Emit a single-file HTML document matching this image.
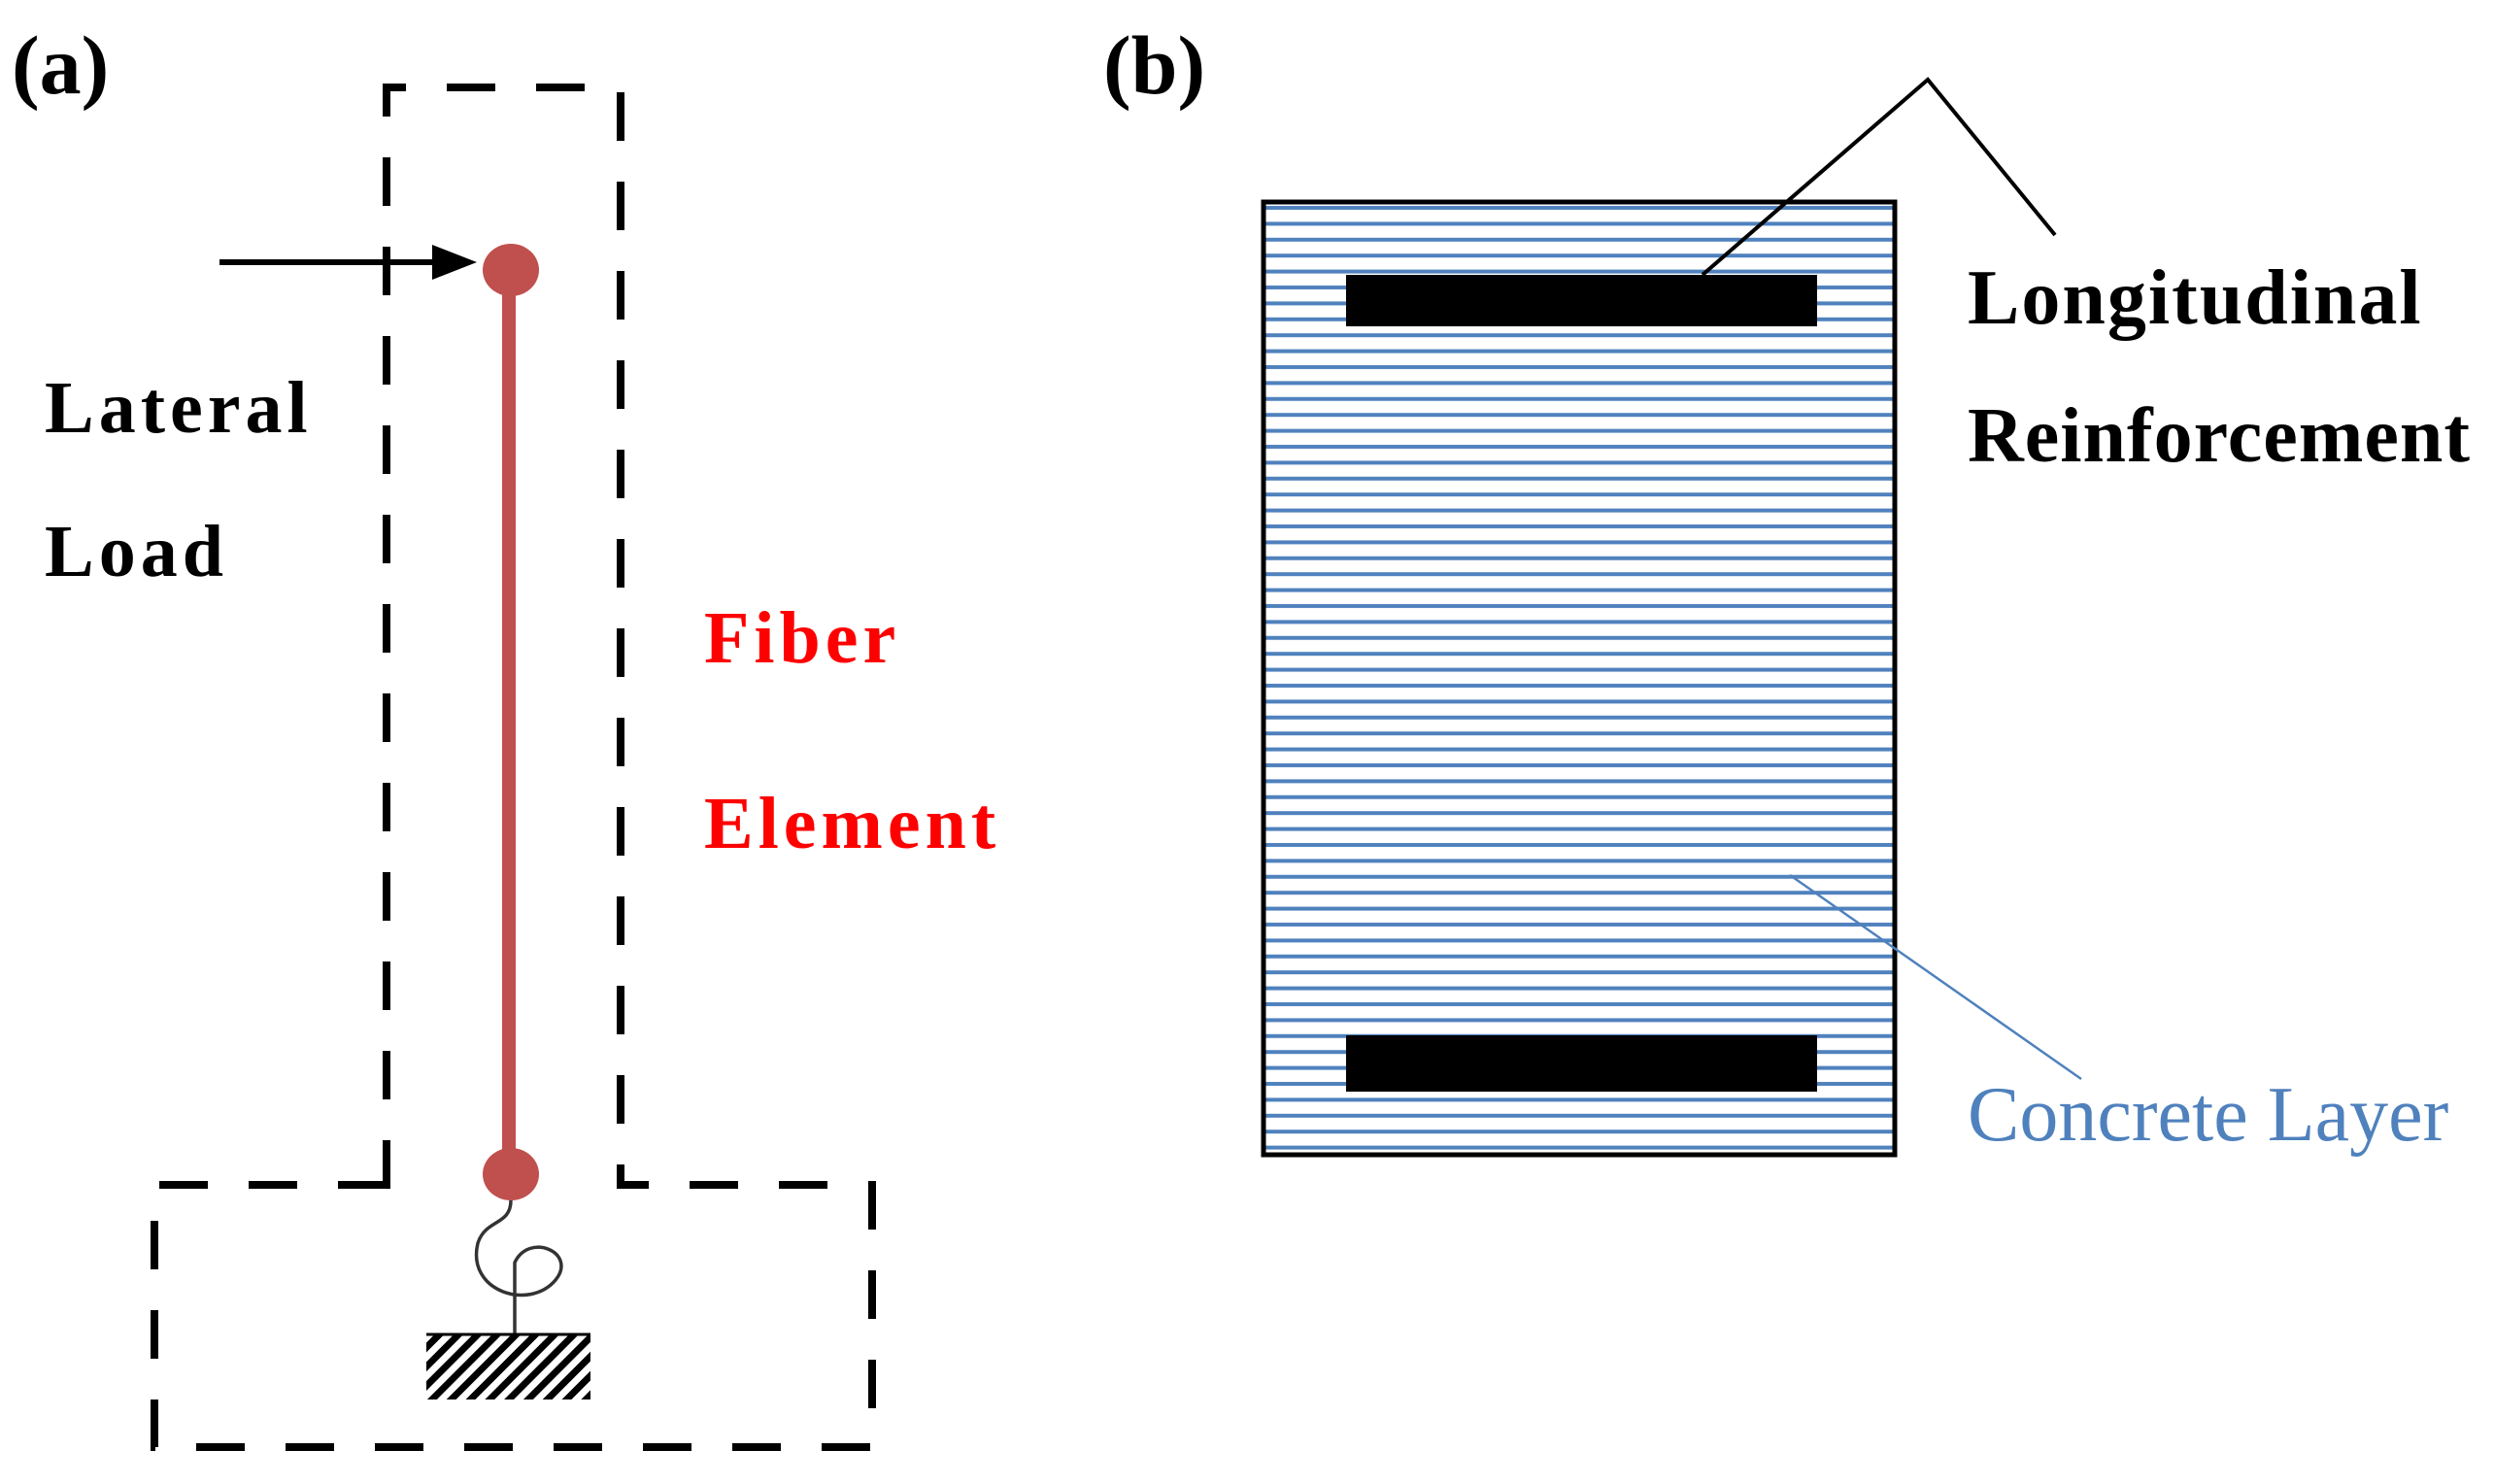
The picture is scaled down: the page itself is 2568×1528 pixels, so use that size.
<!DOCTYPE html>
<html><head><meta charset="utf-8"><style>
html,body{margin:0;padding:0;background:#fff;}
svg{display:block;}
</style></head><body>
<svg width="2568" height="1528" viewBox="0 0 2568 1528" xmlns="http://www.w3.org/2000/svg">
<defs>
<pattern id="hatch" patternUnits="userSpaceOnUse" width="14" height="14" patternTransform="rotate(45)">
<rect width="14" height="14" fill="#fff"/><rect width="7" height="14" fill="#000"/>
</pattern>
<pattern id="layers" patternUnits="userSpaceOnUse" width="20" height="16.4" y="206">
<rect width="20" height="16.4" fill="#fff"/><rect y="6" width="20" height="4" fill="#4f81bd"/>
</pattern>
</defs>
<g font-family="Liberation Serif, serif" font-weight="bold">
<text x="12" y="96" font-size="86">(a)</text>
<text x="1136" y="96" font-size="86">(b)</text>
<text x="46" y="445" font-size="76" letter-spacing="5">Lateral</text>
<text x="46" y="593" font-size="76" letter-spacing="5">Load</text>
<text x="725" y="682" font-size="76" letter-spacing="5" fill="#ff0000">Fiber</text>
<text x="725" y="873" font-size="76" letter-spacing="5" fill="#ff0000">Element</text>
<text x="2026" y="333" font-size="80" letter-spacing="2">Longitudinal</text>
<text x="2026" y="475" font-size="80" letter-spacing="1">Reinforcement</text>
</g>
<text x="2026" y="1174" font-family="Liberation Serif, serif" font-size="80" fill="#4f81bd" letter-spacing="0">Concrete Layer</text>
<path d="M398,1220 L159,1220 L159,1490 L898,1490 L898,1220 L639,1220 L639,90 L398,90 Z" fill="none" stroke="#000" stroke-width="8" stroke-dasharray="50 42"/>
<line x1="226" y1="270" x2="455" y2="270" stroke="#000" stroke-width="6"/>
<polygon points="445,252 491,270 445,288" fill="#000"/>
<line x1="524" y1="278" x2="524" y2="1209" stroke="#c0504d" stroke-width="14"/>
<ellipse cx="526" cy="278" rx="29" ry="27" fill="#c0504d"/>
<ellipse cx="526" cy="1209" rx="29" ry="27" fill="#c0504d"/>
<path d="M526,1236 C526,1262 500,1255 492,1280 C480,1330 545,1350 572,1318 C595,1290 545,1268 530,1300 L530,1373" fill="none" stroke="#333" stroke-width="3.5"/>
<rect x="439" y="1373" width="169" height="68" fill="url(#hatch)"/>
<line x1="439" y1="1374" x2="608" y2="1374" stroke="#000" stroke-width="3"/>
<rect x="1301" y="208" width="650" height="981" fill="url(#layers)" stroke="#000" stroke-width="5"/>
<rect x="1386" y="283" width="485" height="53" fill="#000"/>
<rect x="1386" y="1066" width="485" height="58" fill="#000"/>
<polyline points="1753,283 1985,82 2116,242" fill="none" stroke="#000" stroke-width="4"/>
<line x1="1843" y1="901" x2="2143" y2="1111" stroke="#4f81bd" stroke-width="2.5"/>
</svg>
</body></html>
